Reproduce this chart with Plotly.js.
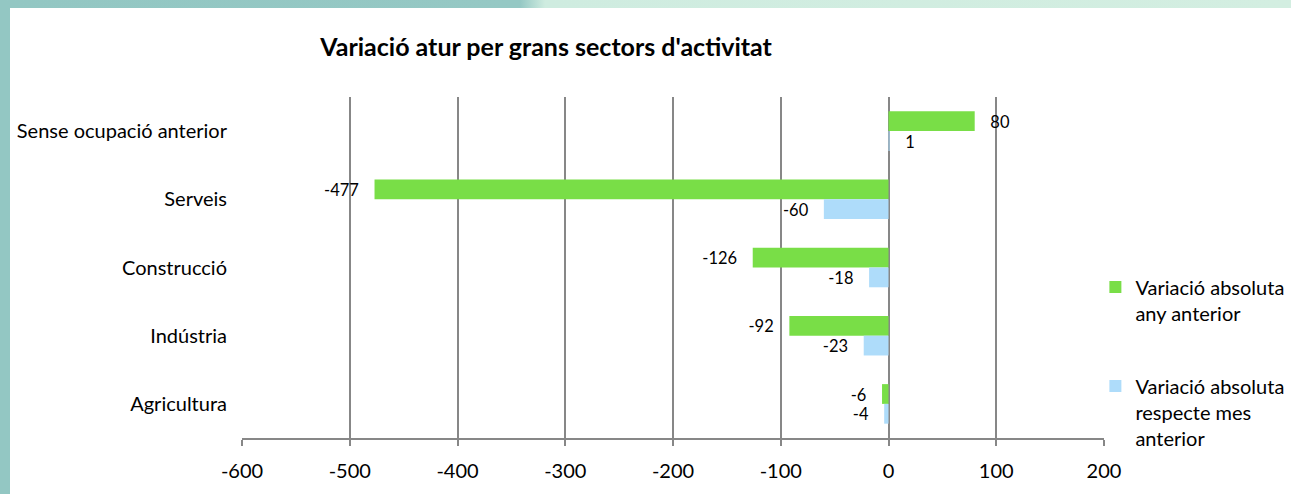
<!DOCTYPE html>
<html>
<head>
<meta charset="utf-8">
<script src="https://cdn.plot.ly/plotly-3.0.1.min.js"></script>
<style>
  html, body { margin: 0; padding: 0; background: #ffffff; }
  #wrap { position: relative; width: 1291px; height: 494px; overflow: hidden; background: #ffffff; }
  #leftStrip { position: absolute; left: 0; top: 0; width: 10px; height: 494px; background: #93c7c3; }
  #topStrip { position: absolute; left: 0; top: 0; width: 1291px; height: 8px;
    background: linear-gradient(to right, #93c7c3 0px, #95c8c4 520px, #cfece0 545px, #d3eee1 1291px); }
  #chart { position: absolute; left: 0; top: 0; width: 1291px; height: 494px; }
</style>
</head>
<body>
<div id="wrap">
  <div id="leftStrip"></div>
  <div id="topStrip"></div>
  <div id="chart"></div>
</div>
<script>
const categories = ['Sense ocupació anterior', 'Serveis', 'Construcció', 'Indústria', 'Agricultura'];
const seriesNames = ['Variació absoluta<br>any anterior', 'Variació absoluta<br>respecte mes<br>anterior'];
const anyAnterior = [80, -477, -126, -92, -6];
const mesAnterior = [1, -60, -18, -23, -4];
const xTickVals = [-600, -500, -400, -300, -200, -100, 0, 100, 200];

const font = 'Lato, "Open Sans", sans-serif';
const grey = '#878787';
const pad = '\u00a0\u00a0\u00a0';
const labelFor = v => (v < 0 ? String(v) + pad : pad + String(v));

const boundaries = [];
for (let i = 0; i <= categories.length; i++) boundaries.push(i - 0.5);

const traces = [
  {
    type: 'bar', orientation: 'h', name: seriesNames[0], legendgroup: 'g1',
    y: categories, x: anyAnterior,
    marker: { color: '#79de47' },
    text: anyAnterior.map(labelFor), textposition: 'outside', cliponaxis: false,
    textfont: { family: font, size: 20, color: '#000' },
    hoverinfo: 'x+y'
  },
  {
    type: 'bar', orientation: 'h', name: seriesNames[1], legendgroup: 'g2',
    y: categories, x: mesAnterior,
    marker: { color: '#aedcfa' },
    text: mesAnterior.map(labelFor), textposition: 'outside', cliponaxis: false,
    textfont: { family: font, size: 20, color: '#000' },
    hoverinfo: 'x+y'
  }
];

const xr = [xTickVals[0], xTickVals[xTickVals.length - 1]];
const zeroPos = (0 - xr[0]) / (xr[1] - xr[0]);

const layout = {
  width: 1291, height: 494,
  paper_bgcolor: 'rgba(0,0,0,0)', plot_bgcolor: 'rgba(0,0,0,0)',
  margin: { l: 242, r: 187, t: 97, b: 56, autoexpand: false },
  font: { family: font, size: 20, color: '#000' },
  title: {
    text: "<b>Variació atur per grans sectors d'activitat</b>",
    font: { family: font, size: 25, color: '#000' },
    x: 0.423, xanchor: 'center', y: 0.905, yanchor: 'middle'
  },
  barmode: 'group', bargap: 0.42, bargroupgap: 0,
  xaxis: {
    range: xr, tickvals: xTickVals, ticktext: xTickVals.map(String),
    showgrid: true, gridcolor: grey, gridwidth: 2,
    zeroline: false,
    showline: true, linecolor: grey, linewidth: 2,
    ticks: 'outside', ticklen: 6, tickcolor: grey, tickwidth: 2,
    ticklabelstandoff: 8,
    tickfont: { family: font, size: 20, color: '#000' },
    fixedrange: true
  },
  yaxis: {
    type: 'category', categoryorder: 'array', categoryarray: categories,
    autorange: 'reversed',
    showgrid: false, zeroline: false, showline: false, ticks: '',
    ticklabelstandoff: 14,
    tickfont: { family: font, size: 20, color: '#000' },
    fixedrange: true
  },
  yaxis2: {
    overlaying: 'y', anchor: 'free', position: zeroPos,
    range: [categories.length - 0.5, -0.5],
    tickvals: boundaries, showticklabels: false,
    showgrid: false, zeroline: false,
    showline: true, linecolor: grey, linewidth: 2,
    ticks: 'outside', ticklen: 6, tickcolor: grey, tickwidth: 2,
    fixedrange: true
  },
  yaxis3: {
    overlaying: 'y', anchor: 'free', position: zeroPos,
    range: [categories.length - 0.5, -0.5],
    tickvals: boundaries, showticklabels: false,
    showgrid: false, zeroline: false, showline: false,
    ticks: 'inside', ticklen: 6, tickcolor: grey, tickwidth: 2,
    fixedrange: true
  },
  showlegend: true,
  legend: {
    x: 0.99, xanchor: 'left', y: 0.50, yanchor: 'top',
    traceorder: 'grouped', tracegroupgap: 44, valign: 'top',
    font: { family: font, size: 20, color: '#000' },
    itemwidth: 30, bgcolor: 'rgba(0,0,0,0)'
  }
};

Plotly.newPlot('chart', traces, layout, { displayModeBar: false, staticPlot: true });
</script>
</body>
</html>
